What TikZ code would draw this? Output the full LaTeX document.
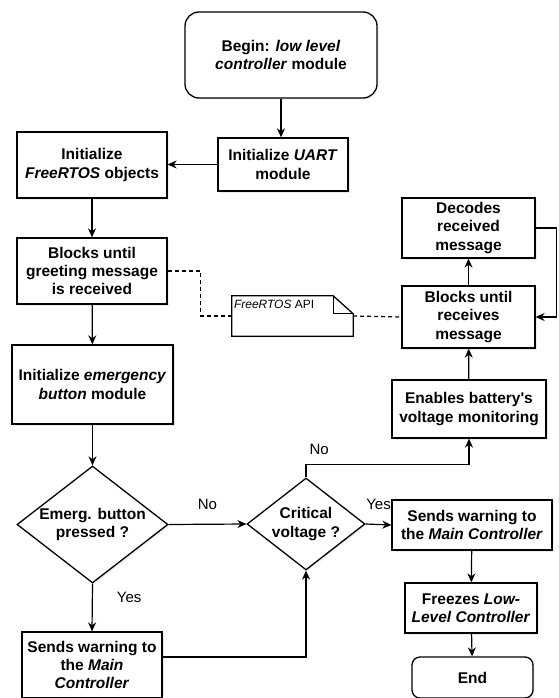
\documentclass[tikz,border=0pt]{standalone}
\usepackage{fontspec}
\setmainfont{Liberation Sans}
\usetikzlibrary{positioning,arrows.meta,shapes.geometric,shadows}

\begin{document}
\begin{tikzpicture}[x=1pt, y=-1pt,
  font=\fontsize{15.5}{18.3}\selectfont\bfseries,
  box/.style={draw, line width=1.3pt, fill=white, align=center, inner sep=2pt,
    drop shadow={shadow xshift=1.5pt, shadow yshift=-1.5pt, opacity=0.15}},
  rbox/.style={box, rounded corners=#1},
  decision/.style={box, diamond, aspect=1.3, inner sep=0pt},
  arr/.style={-{Stealth[length=9pt, width=8pt]}, line width=1.2pt},
  lbl/.style={font=\fontsize{15}{18}\selectfont, inner sep=0pt},
  apiline/.style={dashed, line width=1.2pt, dash pattern=on 4pt off 3pt}]
  \useasboundingbox (0,0) rectangle (558,698);

  % main column
  \node[rbox=14pt, minimum width=192, minimum height=86] (begin) at (281,55)
    {Begin: \textit{low level}\\\textit{controller} module};
  \node[box, minimum width=130, minimum height=53] (uart) at (283,164.5)
    {Initialize \textit{UART}\\module};
  \node[box, minimum width=150, minimum height=66] (objs) at (92,165)
    {Initialize\\\textit{FreeRTOS} objects};
  \node[box, minimum width=150, minimum height=66] (greet) at (92,271)
    {Blocks until\\greeting message\\is received};
  \node[box, minimum width=161, minimum height=79] (emerg) at (92.5,384.5)
    {Initialize \textit{emergency}\\\textit{button} module};
  \node[decision, minimum width=151, minimum height=117] (btn) at (92.5,524.5)
    {Emerg. button\\pressed ?};
  \node[box, minimum width=140, minimum height=66] (warnL) at (92,665)
    {Sends warning to\\the \textit{Main}\\\textit{Controller}};

  % voltage check
  \node[decision, minimum width=118, minimum height=92] (volt) at (306,524)
    {Critical\\voltage ?};
  \node[box, minimum width=160, minimum height=50] (warnR) at (472,525)
    {Sends warning to\\the \textit{Main Controller}};
  \node[box, minimum width=132, minimum height=50] (freeze) at (471,608)
    {Freezes \textit{Low-}\\\textit{Level Controller}};
  \node[rbox=8pt, minimum width=121, minimum height=41] (end) at (472.5,677.5)
    {End};

  % message loop
  \node[box, minimum width=154, minimum height=58] (batt) at (469,409)
    {Enables battery\textquotesingle s\\voltage monitoring};
  \node[box, minimum width=133, minimum height=62] (recv) at (468.5,317)
    {Blocks until\\receives\\message};
  \node[box, minimum width=133, minimum height=60] (decode) at (468.5,228)
    {Decodes\\received\\message};

  % API note with folded corner
  \node[minimum width=121, minimum height=40, inner sep=0pt] (api) at (292.5,316) {};
  \draw[line width=1.3pt, fill=white,
    drop shadow={shadow xshift=1.5pt, shadow yshift=-1.5pt, opacity=0.15}]
    (api.north west) -- ([xshift=-20pt]api.north east)
    -- ([yshift=-18pt]api.north east) -- (api.south east)
    -- (api.south west) -- cycle;
  \draw[line width=1.2pt] ([xshift=-20pt]api.north east)
    |- ([yshift=-18pt]api.north east);
  \node[anchor=north west, font=\fontsize{12}{14}\selectfont, inner sep=0pt]
    (apitext) at ([xshift=2pt, yshift=-4pt]api.north west) {\textit{FreeRTOS} API};

  % connectors
  \draw[arr] (begin.south) -- (begin.south |- uart.north);
  \draw[arr] (uart.west) -- (uart.west -| objs.east);
  \draw[arr] (objs) -- (greet);
  \draw[arr] (greet) -- (emerg);
  \draw[arr] (emerg) -- (btn);
  \draw[arr] (btn.east) -- (volt.west)
    node[lbl, midway, above=14pt] {No};
  \draw[arr] (btn.south) -- (warnL.north)
    node[lbl, pos=0.29, right=24pt] {Yes};
  \coordinate (ret) at (306,657);
  \draw[arr] (warnL.east |- ret) -| (volt.south);
  \draw[arr] (volt.east) -- (warnR.west)
    node[lbl, midway, above=14pt] {Yes};
  \draw[arr] (volt.north) -- ++(0,-13) coordinate (up)
    node[lbl, above right=9pt and 3pt] {No} -| (batt.south);
  \draw[arr] (warnR) -- (freeze);
  \draw[arr] (freeze) -- (end);
  \draw[arr] (batt) -- (recv);
  \draw[arr] (recv) -- (decode);
  \draw[arr] (decode.east) -- ++(21,0) |- (recv.east);

  % dotted link to the API note
  \draw[apiline] (greet.east) -- ++(33,0) |- (api.west);
  \draw[apiline] (api.east) -- (recv.west);
\end{tikzpicture}
\end{document}
